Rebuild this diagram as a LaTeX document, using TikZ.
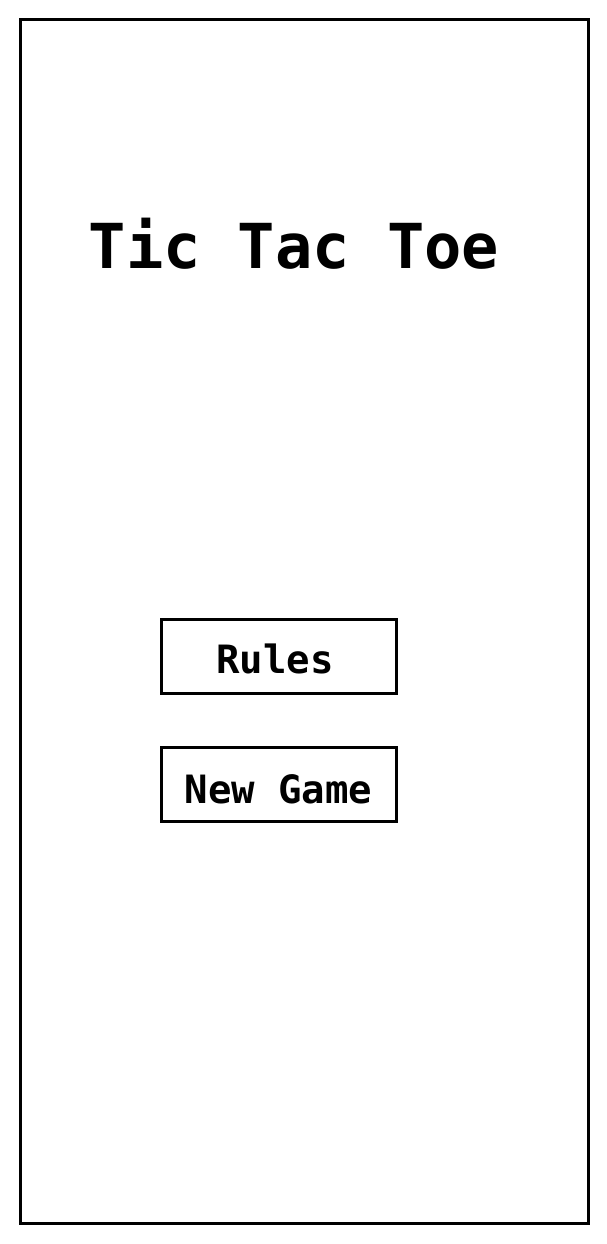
\documentclass[tikz,border=0pt]{standalone}
\usepackage{fontspec}
\setmonofont{DejaVu Sans Mono}
\tikzset{
	btn/.style={draw, line width=3pt, minimum width=235pt, minimum height=74pt, inner sep=0pt},
	btntext/.style={font=\ttfamily\bfseries\fontsize{39}{39}\selectfont, anchor=base}
}
\begin{document}
\begin{tikzpicture}[x=1pt, y=-1pt]
	\useasboundingbox (0,0) rectangle (607,1244);
	\draw[line width=3pt] (20,20) rectangle (588,1223);
	\node[font=\ttfamily\bfseries\fontsize{62}{62}\selectfont, anchor=base] (title) at (294,268) {Tic Tac Toe};
	\node[btn] (rules) at (278.5,656) {};
	\node[btntext] (rulestext) at (275,673) {Rules};
	\node[btn] (newgame) at (278.5,784) {};
	\node[btntext] (newgametext) at (278.5,803) {New Game};
\end{tikzpicture}
\end{document}
